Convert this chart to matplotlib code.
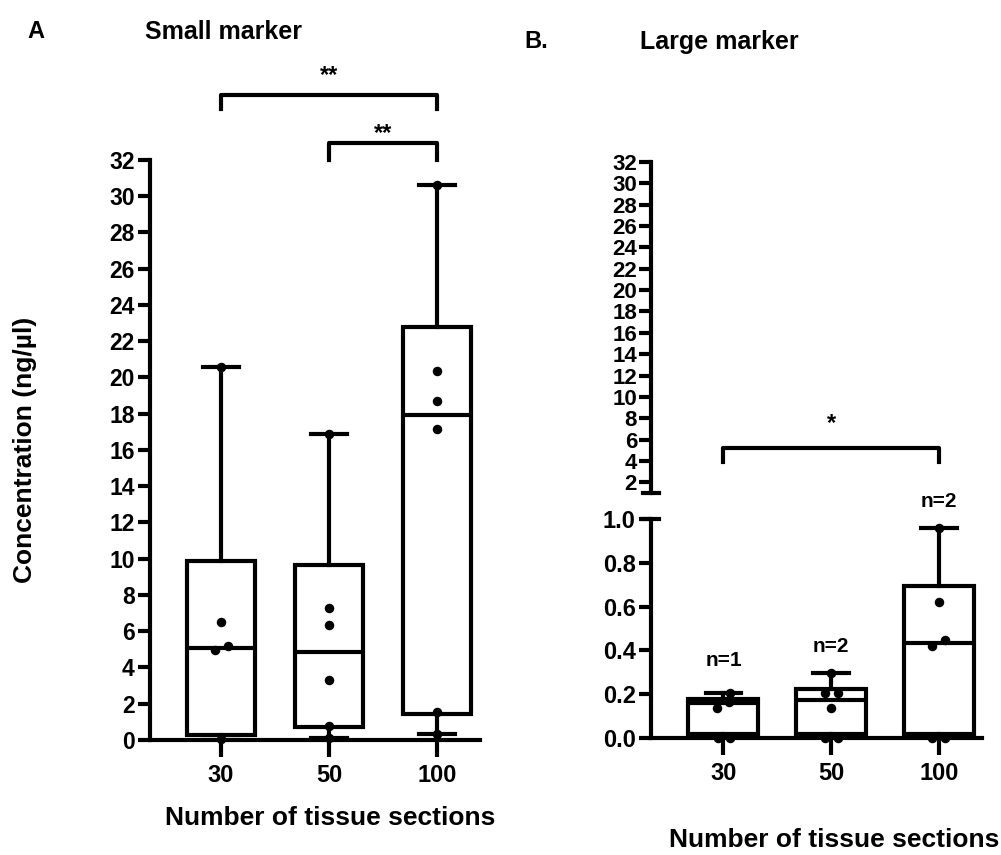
import matplotlib
matplotlib.use("Agg")
import matplotlib.pyplot as plt

plt.rcParams['font.family'] = ['Liberation Sans', 'DejaVu Sans']
plt.rcParams['font.weight'] = 'bold'

groups = ['30', '50', '100']

# Small marker (panel A) box stats, ng/ul
small_whislo = [0.0, 0.1, 0.35]
small_q1 = [0.25, 0.72, 1.45]
small_med = [5.1, 4.85, 17.95]
small_q3 = [9.9, 9.65, 22.8]
small_whishi = [20.6, 16.9, 30.6]
small_pts = [[20.6, 6.5, 5.2, 4.95, 0.05],
             [16.9, 7.3, 6.35, 3.3, 0.75, 0.1],
             [30.6, 20.35, 18.7, 17.15, 1.55, 0.35]]
small_jit = [[0, 0, 0.06, -0.06, 0],
             [0, 0, 0, 0, 0, 0],
             [0, 0, 0, 0, 0, 0]]

# Large marker (panel B) box stats
large_whislo = [0.0, 0.0, 0.0]
large_q1 = [0.02, 0.02, 0.02]
large_med = [0.16, 0.175, 0.435]
large_q3 = [0.178, 0.225, 0.695]
large_whishi = [0.205, 0.297, 0.958]
large_pts = [[0.205, 0.165, 0.137, 0.0, 0.0],
             [0.297, 0.205, 0.205, 0.137, 0.0, 0.0],
             [0.958, 0.62, 0.447, 0.42, 0.0, 0.0]]
large_jit = [[0.06, 0.05, -0.06, -0.05, 0.06],
             [0, -0.06, 0.06, 0, -0.06, 0.06],
             [0, 0, 0.06, -0.06, -0.06, 0.06]]
n_labels = ['n=1', 'n=2', 'n=2']
n_y = [0.356, 0.42, 1.08]

LW = 3


def make_stats(lo, q1, med, q3, hi):
    return [dict(whislo=lo[i], q1=q1[i], med=med[i], q3=q3[i], whishi=hi[i],
                 label=groups[i], fliers=[]) for i in range(len(groups))]


def draw_boxes(ax, stats, pts, jit, width):
    ax.bxp(stats, positions=range(len(stats)), widths=width, capwidths=0.33,
           showfliers=False, patch_artist=True,
           boxprops=dict(facecolor='white', edgecolor='black', linewidth=LW),
           medianprops=dict(color='black', linewidth=LW),
           whiskerprops=dict(color='black', linewidth=LW),
           capprops=dict(color='black', linewidth=LW))
    for i, vals in enumerate(pts):
        xs = [i + j for j in jit[i]]
        ax.scatter(xs, vals, s=34, color='black', zorder=3, clip_on=False)


def style(ax):
    for s in ['top', 'right']:
        ax.spines[s].set_visible(False)
    for s in ['left', 'bottom']:
        ax.spines[s].set_linewidth(LW)
    ax.tick_params(direction='out', length=9, width=LW, labelsize=17, pad=2)


fig = plt.figure(figsize=(10.01, 8.55), dpi=100)

# ---- panel A
axA = fig.add_axes([0.1499, 0.1345, 0.3297, 0.6785])
draw_boxes(axA, make_stats(small_whislo, small_q1, small_med, small_q3, small_whishi),
           small_pts, small_jit, 0.63)
style(axA)
axA.set_ylim(0, 32)
axA.set_yticks(range(0, 33, 2))
axA.set_xlim(-0.657, 2.398)
axA.set_xticks(range(3))
axA.set_xticklabels(groups)
axA.tick_params(axis='y', labelsize=16.5)
axA.tick_params(axis='x', length=12, pad=5)

# significance brackets A
axA.plot([0, 0, 2, 2], [34.8, 35.6, 35.6, 34.8], color='black', lw=LW, clip_on=False)
axA.text(1, 36.3, '**', ha='center', va='baseline', fontsize=17)
axA.plot([1, 1, 2, 2], [32.0, 32.95, 32.95, 32.0], color='black', lw=LW, clip_on=False)
axA.text(1.5, 33.1, '**', ha='center', va='baseline', fontsize=17)

# ---- panel B (broken axis)
axBt = fig.add_axes([0.6503, 0.4234, 0.3307, 0.3871])
axBb = fig.add_axes([0.6503, 0.1368, 0.3307, 0.2561])

draw_boxes(axBb, make_stats(large_whislo, large_q1, large_med, large_q3, large_whishi),
           large_pts, large_jit, 0.65)
style(axBb)
axBb.set_ylim(0, 1.0)
axBb.set_yticks([0, 0.2, 0.4, 0.6, 0.8, 1.0])
axBb.set_yticklabels(['0.0', '0.2', '0.4', '0.6', '0.8', '1.0'])
axBb.set_xlim(-0.673, 2.40)
axBb.set_xticks(range(3))
axBb.set_xticklabels(groups)
axBb.tick_params(axis='x', length=12, pad=5)
for i, t in enumerate(n_labels):
    axBb.text(i, n_y[i], t, ha='center', va='center', fontsize=15, clip_on=False)

style(axBt)
axBt.spines['bottom'].set_visible(False)
axBt.set_ylim(1, 32)
axBt.set_yticks(range(2, 33, 2))
axBt.tick_params(axis='y', labelsize=16, pad=1)
axBt.set_xlim(-0.673, 2.40)
axBt.set_xticks([])
axBt.patch.set_alpha(0)

# break marks
axBt.plot([-0.024, 0.024], [1, 1], color='black', lw=LW, clip_on=False,
          transform=axBt.get_yaxis_transform())
axBb.plot([-0.024, 0.024], [1, 1], color='black', lw=LW, clip_on=False,
          transform=axBb.get_yaxis_transform())

# significance bracket B
axBt.plot([0, 0, 2, 2], [3.87, 5.18, 5.18, 3.87], color='black', lw=LW, clip_on=False)
axBt.text(1, 6.9, '*', ha='center', va='baseline', fontsize=17)

# ---- figure text
fig.text(27 / 1001, 1 - 32 / 855, 'A', ha='left', va='center', fontsize=17)
fig.text(145 / 1001, 1 - 32 / 855, 'Small marker', ha='left', va='center', fontsize=18)
fig.text(524 / 1001, 1 - 42 / 855, 'B.', ha='left', va='center', fontsize=17)
fig.text(640 / 1001, 1 - 42 / 855, 'Large marker', ha='left', va='center', fontsize=18)
fig.text(25 / 1001, 1 - 450 / 855, 'Concentration (ng/µl)', rotation=90,
         ha='center', va='center', fontsize=19)
fig.text(330 / 1001, 1 - 818 / 855, 'Number of tissue sections', ha='center',
         va='center', fontsize=19)
fig.text(834 / 1001, 1 - 840 / 855, 'Number of tissue sections', ha='center',
         va='center', fontsize=19)

fig.savefig('out.png', dpi=100)
